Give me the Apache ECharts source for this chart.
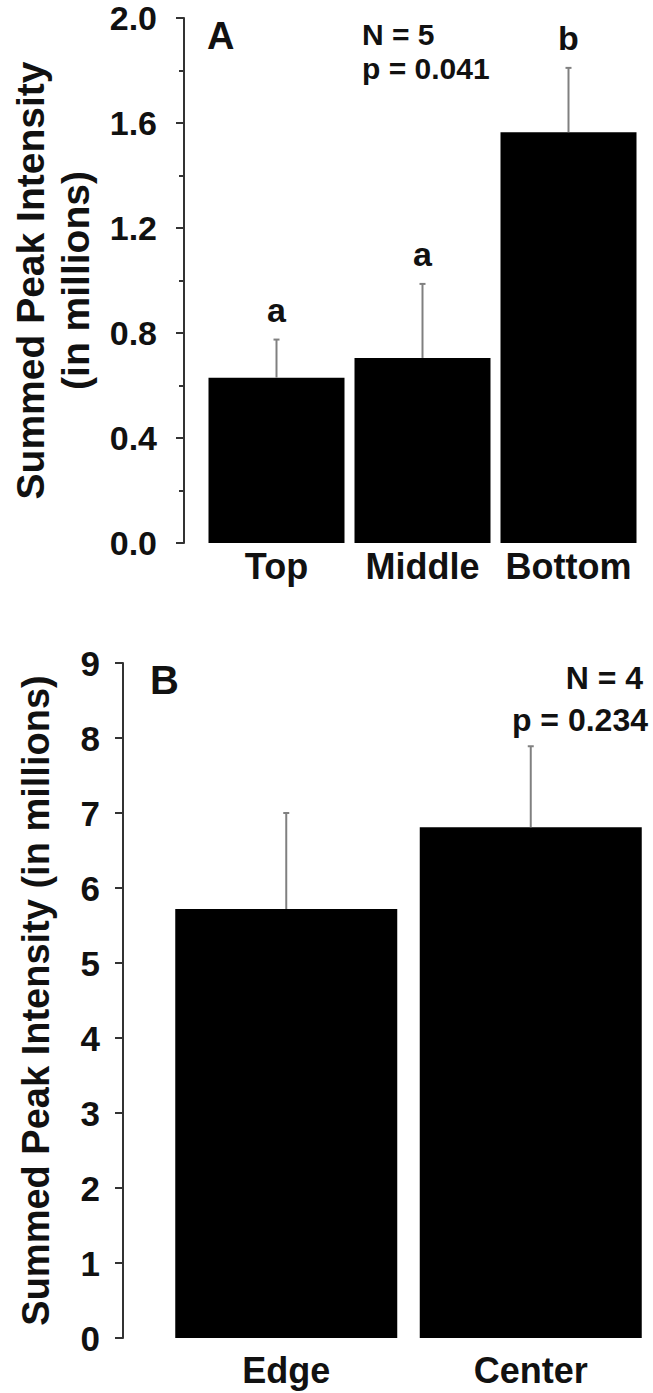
<!DOCTYPE html>
<html>
<head>
<meta charset="utf-8">
<script src="https://cdn.jsdelivr.net/npm/echarts@6/dist/echarts.min.js"></script>
<style>
  html, body { margin: 0; padding: 0; background: #fff; }
  #chart { width: 653px; height: 1393px; }
</style>
</head>
<body>
<div id="chart"></div>
<script>
  // panel A
  const groupsA = ['Top', 'Middle', 'Bottom']
  const meansA = [0.63, 0.705, 1.565]
  const errA = [0.145, 0.282, 0.245]
  const lettersA = ['a', 'a', 'b']
  // panel B
  const groupsB = ['Edge', 'Center']
  const meansB = [5.72, 6.81]
  const errB = [1.28, 1.08]
  const lettersB = ['', '']

  const FONT = "'Liberation Sans', Arial, Helvetica, sans-serif"
  const axisColor = '#333'
  const errColor = '#808080'

  function errData(means, errs, letters) {
    return means.map((m, i) => [i, m, errs[i], letters[i]])
  }

  function renderErr(params, api) {
    const idx = api.value(0)
    const m = api.value(1)
    const e = api.value(2)
    const letter = params.seriesIndex === 1 ? lettersA[idx] : lettersB[idx]
    const p0 = api.coord([idx, m])
    const p1 = api.coord([idx, m + e])
    const children = [
      {
        type: 'line',
        shape: { x1: p0[0], y1: p0[1], x2: p1[0], y2: p1[1] },
        style: { stroke: errColor, lineWidth: 2 },
      },
      {
        type: 'line',
        shape: { x1: p1[0] - 3, y1: p1[1], x2: p1[0] + 3, y2: p1[1] },
        style: { stroke: errColor, lineWidth: 2 },
      },
    ]
    if (letter) {
      children.push({
        type: 'text',
        style: {
          x: p1[0],
          y: p1[1] - 30,
          text: letter,
          fill: '#111',
          font: 'bold 34px ' + FONT,
          align: 'center',
          verticalAlign: 'middle',
        },
      })
    }
    return { type: 'group', children }
  }

  const yAxisCommon = {
    type: 'value',
    splitLine: { show: false },
    axisLine: { show: true, lineStyle: { color: axisColor, width: 2 } },
    axisTick: { show: true, length: 8, lineStyle: { color: axisColor, width: 2 } },
    nameLocation: 'middle',
    nameRotate: 90,
    nameTextStyle: {
      color: '#111',
      fontFamily: FONT,
      fontWeight: 'bold',
      fontSize: 38,
    },
  }

  const xAxisCommon = {
    type: 'category',
    axisLine: { show: false },
    axisTick: { show: false },
    axisLabel: {
      interval: 0,
      hideOverlap: false,
      color: '#111',
      fontFamily: FONT,
      fontWeight: 'bold',
      fontSize: 36,
    },
  }

  const option = {
    backgroundColor: '#fff',
    animation: false,
    grid: [
      { left: 203.5, top: 18, width: 438, height: 525 },
      { left: 164, top: 663, width: 496, height: 675 },
    ],
    xAxis: [
      Object.assign({}, xAxisCommon, {
        gridIndex: 0,
        data: groupsA,
        axisLabel: Object.assign({}, xAxisCommon.axisLabel, { margin: 5 }),
      }),
      Object.assign({}, xAxisCommon, {
        gridIndex: 1,
        data: groupsB,
        axisLabel: Object.assign({}, xAxisCommon.axisLabel, { margin: 14 }),
      }),
    ],
    yAxis: [
      Object.assign({}, yAxisCommon, {
        gridIndex: 0,
        min: 0,
        max: 2.0,
        interval: 0.4,
        offset: 19.5,
        name: 'Summed Peak Intensity\n(in millions)',
        nameGap: 86,
        nameTextStyle: Object.assign({}, yAxisCommon.nameTextStyle, { fontSize: 39, lineHeight: 45 }),
        minorTick: { show: true, splitNumber: 2, length: 5, lineStyle: { color: axisColor, width: 2 } },
        axisLabel: {
          margin: 27,
          color: '#111',
          fontFamily: FONT,
          fontWeight: 'bold',
          fontSize: 34,
          formatter: (v) => v.toFixed(1),
        },
      }),
      Object.assign({}, yAxisCommon, {
        gridIndex: 1,
        min: 0,
        max: 9,
        interval: 1,
        offset: 41,
        name: 'Summed Peak Intensity (in millions)',
        nameGap: 68,
        axisLabel: {
          margin: 23,
          color: '#111',
          fontFamily: FONT,
          fontWeight: 'bold',
          fontSize: 35,
        },
      }),
    ],
    graphic: [
      {
        type: 'text', left: 207, top: 17,
        style: { text: 'A', font: 'bold 38px ' + FONT, fill: '#111' },
      },
      {
        type: 'text', left: 362, top: 19,
        style: { text: 'N = 5', font: 'bold 30px ' + FONT, fill: '#111' },
      },
      {
        type: 'text', left: 362, top: 53,
        style: { text: 'p = 0.041', font: 'bold 30px ' + FONT, fill: '#111' },
      },
      {
        type: 'text', left: 150, top: 660,
        style: { text: 'B', font: 'bold 40px ' + FONT, fill: '#111' },
      },
      {
        type: 'text', right: 10, top: 662,
        style: { text: 'N = 4', font: 'bold 32px ' + FONT, fill: '#111' },
      },
      {
        type: 'text', right: 5, top: 704,
        style: { text: 'p = 0.234', font: 'bold 32px ' + FONT, fill: '#111' },
      },
    ],
    series: [
      {
        type: 'bar',
        xAxisIndex: 0,
        yAxisIndex: 0,
        data: meansA,
        barWidth: 136,
        itemStyle: { color: '#000' },
      },
      {
        type: 'custom',
        xAxisIndex: 0,
        yAxisIndex: 0,
        data: errData(meansA, errA, lettersA),
        renderItem: renderErr,
        z: 3,
      },
      {
        type: 'bar',
        xAxisIndex: 1,
        yAxisIndex: 1,
        data: meansB,
        barWidth: 222,
        itemStyle: { color: '#000' },
      },
      {
        type: 'custom',
        xAxisIndex: 1,
        yAxisIndex: 1,
        data: errData(meansB, errB, lettersB),
        renderItem: renderErr,
        z: 3,
      },
    ],
  }

  const chart = echarts.init(document.getElementById('chart'), null, { renderer: 'svg' })
  chart.setOption(option)
</script>
</body>
</html>
